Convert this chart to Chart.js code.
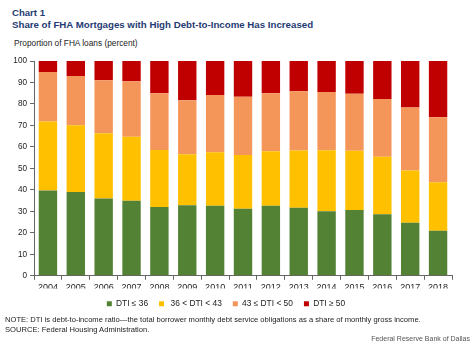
<!DOCTYPE html>
<html>
<head>
<meta charset="utf-8">
<script src="https://cdn.jsdelivr.net/npm/chart.js@4/dist/chart.umd.min.js"></script>
<style>
  html, body { margin: 0; padding: 0; background: #fff; }
  body { width: 474px; height: 344px; position: relative; overflow: hidden; font-family: "Liberation Sans", Arial, sans-serif; }
  .t { position: absolute; white-space: nowrap; }
  #h1 { left: 12px; top: 7px; font-size: 9.6px; font-weight: bold; color: #1f3b73; }
  #h2 { left: 12px; top: 19px; font-size: 9.7px; font-weight: bold; color: #1f3b73; }
  #unit { left: 14px; top: 38px; font-size: 8.3px; color: #222; }
  #note { left: 5px; top: 314.5px; font-size: 7.6px; color: #222; }
  #src { left: 5px; top: 325px; font-size: 7.6px; color: #222; }
  #fed { right: 4px; top: 335px; font-size: 7px; color: #555; }
  #box { position: absolute; left: 0; top: 50px; width: 474px; height: 268px; }
</style>
</head>
<body>
<div class="t" id="h1">Chart 1</div>
<div class="t" id="h2">Share of FHA Mortgages with High Debt-to-Income Has Increased</div>
<div class="t" id="unit">Proportion of FHA loans (percent)</div>
<div id="box"><canvas id="dti"></canvas></div>
<div class="t" id="note">NOTE: DTI is debt-to-income ratio—the total borrower monthly debt service obligations as a share of monthly gross income.</div>
<div class="t" id="src">SOURCE: Federal Housing Administration.</div>
<div class="t" id="fed">Federal Reserve Bank of Dallas</div>
<script>
const years = ["2004", "2005", "2006", "2007", "2008", "2009", "2010", "2011", "2012", "2013", "2014", "2015", "2016", "2017", "2018"];
const dtiLow = [39.7, 39.0, 36.0, 34.9, 32.0, 32.8, 32.6, 31.2, 32.6, 31.7, 30.1, 30.6, 28.7, 24.7, 21.0];
const dtiMid = [32.1, 31.1, 30.4, 29.8, 26.6, 23.8, 24.9, 25.0, 25.4, 26.6, 28.4, 27.6, 26.7, 24.3, 22.6];
const dtiHigh = [23.1, 22.9, 24.6, 25.9, 26.4, 25.1, 26.7, 27.2, 27.0, 27.6, 27.1, 26.5, 26.9, 29.3, 30.2];
const dtiTop = [5.1, 7.0, 9.0, 9.4, 15.0, 18.3, 15.8, 16.6, 15.0, 14.1, 14.4, 15.3, 17.7, 21.7, 26.2];
const yTicks = [0, 10, 20, 30, 40, 50, 60, 70, 80, 90, 100];

const font = { family: "'Liberation Sans', Arial, sans-serif", size: 9 };

function series(label, data, color) {
  return { label, data, backgroundColor: color, borderWidth: 0, categoryPercentage: 0.66, barPercentage: 1 };
}

new Chart(document.getElementById("dti"), {
  type: "bar",
  data: {
    labels: years,
    datasets: [
      series("DTI ≤ 36", dtiLow, "#548235"),
      series(" 36 < DTI < 43", dtiMid, "#ffc000"),
      series("43 ≤ DTI < 50", dtiHigh, "#f4965a"),
      series("DTI ≥ 50", dtiTop, "#c00000"),
    ],
  },
  options: {
    responsive: true,
    maintainAspectRatio: false,
    animation: false,
    layout: { padding: { top: 11, right: 22, left: 0, bottom: 0 } },
    plugins: {
      tooltip: { enabled: false },
      legend: {
        position: "bottom",
        labels: { boxWidth: 5, boxHeight: 5, padding: 11, color: "#222", font: { ...font, size: 8.4 } },
      },
    },
    scales: {
      x: {
        stacked: true,
        // keep the legend close under the year labels
        afterFit: (s) => { s.height -= 6; },
        grid: { display: true, drawOnChartArea: false, offset: true, tickLength: 4, color: "#666" },
        border: { color: "#666" },
        ticks: { color: "#222", font, padding: 2 },
      },
      y: {
        stacked: true,
        min: 0,
        max: 100,
        afterBuildTicks: (s) => { s.ticks = yTicks.map((v) => ({ value: v })); },
        afterFit: (s) => { s.width = 34; },
        grid: { display: true, drawOnChartArea: false, tickLength: 4, color: "#666" },
        border: { color: "#666" },
        ticks: { color: "#222", font: { ...font, size: 8.2 }, padding: 3 },
      },
    },
  },
});
</script>
</body>
</html>
